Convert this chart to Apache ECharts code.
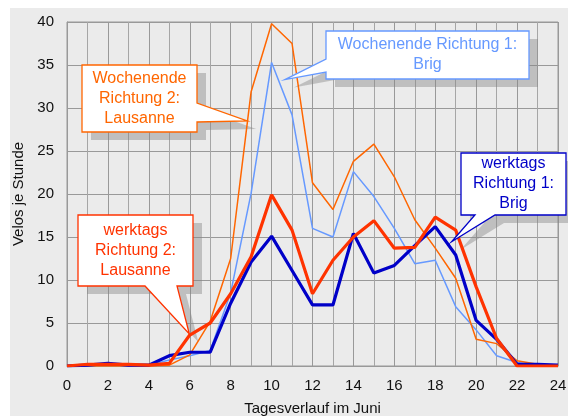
<!DOCTYPE html>
<html>
<head>
<meta charset="utf-8">
<script src="https://cdn.jsdelivr.net/npm/echarts@6/dist/echarts.min.js"></script>
<style>
  html, body { margin: 0; padding: 0; background: #fff; }
  #chart { width: 568px; height: 416px; }
</style>
</head>
<body>
<div id="chart"></div>
<script>
// Stunden 0..24
var stunden = [0,1,2,3,4,5,6,7,8,9,10,11,12,13,14,15,16,17,18,19,20,21,22,23,24];

// Velos je Stunde
var werktagsBrig     = [0,0.1,0.3,0.1,0.1,1.2,1.6,1.6,7.3,12.1,15.1,11.1,7.1,7.1,15.4,10.8,11.7,14.0,16.2,12.9,5.3,3.1,0.2,0.2,0.1];
var werktagsLausanne = [0,0.2,0.2,0.2,0.1,0.3,3.6,5.0,8.4,12.7,19.9,15.8,8.4,12.3,15.0,16.9,13.7,13.8,17.3,15.8,9.2,3.2,0,0,0];
var wochenendeBrig   = [0.1,0.1,0.1,0.1,0.1,0.7,1.2,1.8,8.5,20.1,35.3,29.2,16.0,15.0,22.6,19.7,16.0,11.9,12.3,6.9,4.2,1.2,0.4,0.1,0];
var wochenendeLausanne = [0,0,0,0,0,0.1,1.3,5.2,12.5,31.9,39.8,37.5,21.3,18.2,23.8,25.8,22.0,17.0,13.7,10.2,3.1,2.6,0.6,0.2,0.1];

function paare(werte) {
    return stunden.map(function (h, i) { return [h, werte[i]]; });
}

var chartDom = document.getElementById('chart');
var myChart = echarts.init(chartDom);

var font = 'Liberation Sans, Arial, sans-serif';

var option = {
    animation: false,
    backgroundColor: '#fff',
    grid: {
        left: 67, right: 10, top: 22, bottom: 50,
        outerBoundsMode: 'none',
        containLabel: false,
        show: true,
        backgroundColor: '#ebebeb',
        borderColor: '#999',
        borderWidth: 1
    },
    xAxis: {
        type: 'value',
        min: 0, max: 24, interval: 2,
        name: 'Tagesverlauf im Juni',
        nameLocation: 'middle',
        nameGap: 35,
        nameTextStyle: { fontFamily: font, fontSize: 15, color: '#111' },
        axisLine: { lineStyle: { color: '#999' } },
        axisTick: { show: false },
        axisLabel: { fontFamily: font, fontSize: 15, color: '#111', margin: 12 },
        splitLine: { show: true, lineStyle: { color: '#999', width: 1 } },
        minorTick: { show: false, splitNumber: 2 },
        minorSplitLine: { show: true, lineStyle: { color: '#a6a6a6', width: 1 } }
    },
    yAxis: {
        type: 'value',
        min: 0, max: 40, interval: 5,
        name: 'Velos je Stunde',
        nameLocation: 'middle',
        nameGap: 31,
        nameTextStyle: { fontFamily: font, fontSize: 15, color: '#111' },
        axisLine: { show: true, lineStyle: { color: '#999' } },
        axisTick: { show: false },
        axisLabel: { fontFamily: font, fontSize: 15, color: '#111', margin: 13 },
        splitLine: { show: true, lineStyle: { color: '#999', width: 1 } }
    },
    series: [
        { name: 'Wochenende Richtung 1: Brig', type: 'line', data: paare(wochenendeBrig),
          symbol: 'none', lineStyle: { color: '#6699ff', width: 1.5 }, z: 3 },
        { name: 'Wochenende Richtung 2: Lausanne', type: 'line', data: paare(wochenendeLausanne),
          symbol: 'none', lineStyle: { color: '#ff6600', width: 1.5 }, z: 3 },
        { name: 'werktags Richtung 1: Brig', type: 'line', data: paare(werktagsBrig),
          symbol: 'none', lineStyle: { color: '#0000c8', width: 3.2 }, z: 4 },
        { name: 'werktags Richtung 2: Lausanne', type: 'line', data: paare(werktagsLausanne),
          symbol: 'none', lineStyle: { color: '#ff3300', width: 3.2 }, z: 5 }
    ]
};

myChart.setOption(option);

// Sprechblasen: Box + Spitze, Spitze zeigt auf Datenpunkt
var blasen = [
    { text: 'Wochenende\nRichtung 2:\nLausanne', color: '#ff6600', box: [82, 65, 197, 132],
      seite: 'rechts', basis: [103, 122], ziel: [8.81, 28.5] },
    { text: 'Wochenende Richtung 1:\nBrig', color: '#6699ff', box: [326, 31, 529, 79],
      seite: 'links', basis: [59, 72], ziel: [10.65, 33.3] },
    { text: 'werktags\nRichtung 1:\nBrig', color: '#0000c8', box: [461, 153, 566, 215],
      seite: 'unten', basis: [475, 495], ziel: [18.8, 14.45] },
    { text: 'werktags\nRichtung 2:\nLausanne', color: '#ff3300', box: [78, 215, 193, 286],
      seite: 'unten', basis: [145, 177], ziel: [5.98, 3.72] }
];

function umriss(b, tip) {
    var L = b.box[0], T = b.box[1], R = b.box[2], B = b.box[3];
    if (b.seite === 'rechts') {
        return [[L, T], [R, T], [R, b.basis[0]], tip, [R, b.basis[1]], [R, B], [L, B]];
    }
    if (b.seite === 'links') {
        return [[L, T], [R, T], [R, B], [L, B], [L, b.basis[1]], tip, [L, b.basis[0]]];
    }
    return [[L, T], [R, T], [R, B], [b.basis[1], B], tip, [b.basis[0], B], [L, B]];
}

var elemente = [];
blasen.forEach(function (b) {
    var tip = myChart.convertToPixel({ gridIndex: 0 }, b.ziel);
    var pts = umriss(b, tip);
    var schatten = pts.map(function (p) { return [p[0] + 9, p[1] + 8]; });
    elemente.push({
        type: 'polygon', z: 1, silent: true,
        shape: { points: schatten },
        style: { fill: 'rgba(130,130,130,0.42)' }
    });
    elemente.push({
        type: 'polygon', z: 10, silent: true,
        shape: { points: pts },
        style: { fill: '#fff', stroke: b.color, lineWidth: 1.3 }
    });
    elemente.push({
        type: 'text', z: 11, silent: true,
        x: (b.box[0] + b.box[2]) / 2,
        y: (b.box[1] + b.box[3]) / 2,
        style: {
            text: b.text, fill: b.color,
            font: '16px ' + font, lineHeight: 20,
            align: 'center', verticalAlign: 'middle'
        }
    });
});

// grauer Hintergrund hinter dem ganzen Diagramm
elemente.unshift({
    type: 'rect', z: -10, silent: true,
    shape: { x: 10, y: 8, width: 558, height: 408 },
    style: { fill: '#ebebeb' }
});

myChart.setOption({ graphic: elemente });
</script>
</body>
</html>
